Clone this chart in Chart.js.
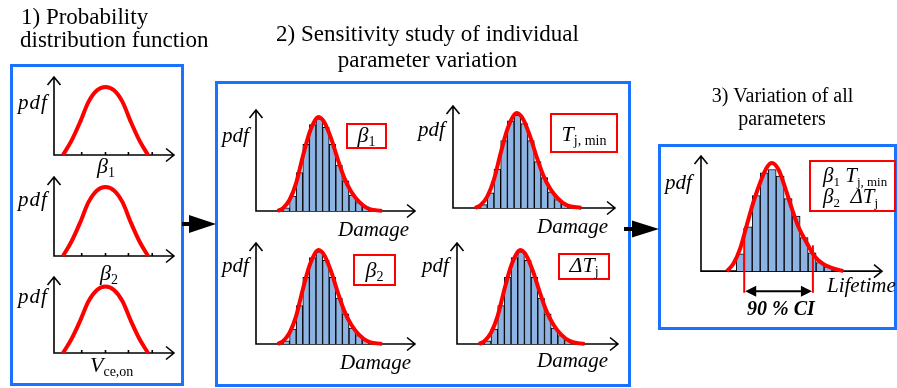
<!DOCTYPE html>
<html>
<head>
<meta charset="utf-8">
<script src="https://cdn.jsdelivr.net/npm/chart.js@4.4.1/dist/chart.umd.min.js"></script>
<style>
  html, body { margin: 0; padding: 0; background: #fff; }
  #page { position: relative; width: 897px; height: 388px; overflow: hidden; }
  .box { position: absolute; border: 3.5px solid #1a73ff; box-sizing: border-box; }
  .tag { position: absolute; border: 2px solid #ff0000; box-sizing: border-box; background: #fff; }
  canvas { position: absolute; }
  svg { position: absolute; left: 0; top: 0; }
  #labels { left: 0; top: 0; }
</style>
</head>
<body>
<div id="page">
  <div class="box" style="left:10px;top:64px;width:174px;height:322px"></div>
  <div class="box" style="left:215px;top:81px;width:416px;height:306px"></div>
  <div class="box" style="left:658px;top:144px;width:239px;height:186px"></div>

  <canvas id="pdf1"></canvas>
  <canvas id="pdf2"></canvas>
  <canvas id="pdf3"></canvas>
  <canvas id="dmgB1"></canvas>
  <canvas id="dmgTmin"></canvas>
  <canvas id="dmgB2"></canvas>
  <canvas id="dmgDT"></canvas>
  <canvas id="life"></canvas>

  <div class="tag" style="left:346px;top:123px;width:41px;height:26px"></div>
  <div class="tag" style="left:550px;top:113px;width:68px;height:40px"></div>
  <div class="tag" style="left:353px;top:254px;width:43px;height:32px"></div>
  <div class="tag" style="left:558px;top:253px;width:52px;height:27px"></div>
  <div class="tag" style="left:809px;top:160px;width:87px;height:52px"></div>

  <svg width="897" height="388">
    <rect x="182" y="222" width="9" height="4" fill="#000"/>
    <polygon points="189,215 216,224 189,233" fill="#000"/>
    <rect x="624" y="227" width="9" height="4" fill="#000"/>
    <polygon points="632,220.5 659,229 632,237.5" fill="#000"/>
  </svg>

  <canvas id="labels" width="897" height="388"></canvas>
</div>

<script>
// 1) input parameter pdfs, normalised to peak
const pdfX = [0, 1, 2, 3, 4, 5, 6, 7, 8, 9, 10];
const pdfBeta1 = [0, 0.21, 0.48, 0.78, 0.95, 1, 0.95, 0.78, 0.48, 0.21, 0];
const pdfBeta2 = [0, 0.21, 0.48, 0.78, 0.95, 1, 0.95, 0.78, 0.48, 0.21, 0];
const pdfVce = [0, 0.21, 0.48, 0.78, 0.95, 1, 0.95, 0.78, 0.48, 0.21, 0];
const pdfTicks = [2.2, 5, 7.7, 10.5];

// 2) damage histogram (same shape for every parameter)
const damageBins = [0, 1, 2, 3, 4, 5, 6, 7, 8, 9, 10, 11, 12];
const damageCounts = [0.035, 0.16, 0.41, 0.71, 0.92, 0.98, 0.89, 0.71, 0.49, 0.32, 0.17, 0.09, 0.045];
const damageFitX = [-1.3, -0.5, 0.5, 1.5, 2.5, 3.5, 4.4, 4.9, 5.8, 6.8, 7.8, 8.8, 9.8, 11, 12.3, 14.5];
const damageFitY = [0, 0.03, 0.12, 0.3, 0.58, 0.83, 0.97, 1, 0.94, 0.77, 0.55, 0.35, 0.21, 0.1, 0.03, 0];

// 3) lifetime histogram with all parameters varied
const lifeBins = [0, 1, 2, 3, 4, 5, 6, 7, 8, 9, 10, 11];
const lifeCounts = [0.16, 0.41, 0.70, 0.91, 0.94, 0.88, 0.67, 0.51, 0.31, 0.17, 0.08, 0.04];
const lifeFitX = [-1.66, -0.84, 0, 0.84, 1.66, 2.5, 3.34, 3.96, 4.79, 5.63, 6.46, 7.29, 8.34, 9.38, 10.41, 11.46, 12.9];
const lifeFitY = [0, 0.07, 0.21, 0.43, 0.64, 0.82, 0.96, 1, 0.94, 0.77, 0.58, 0.41, 0.26, 0.13, 0.065, 0.03, 0];
const ciBounds = [0.5, 9.1];
const ciMarkTop = [0.4, 0.24];
const ciMarkBottom = -0.2;
const ciArrowLevel = -0.185;

const RED = '#ff0000';
const BAR = '#8db3e2';
const FACE = '"Liberation Serif", "Times New Roman", serif';

const axisArrows = {
  id: 'axisArrows',
  beforeDatasetsDraw(chart, args, opts) {
    const { ctx, chartArea: a, scales: { x, y } } = chart;
    const y0 = y.getPixelForValue(0);
    ctx.save();
    ctx.strokeStyle = '#000';
    ctx.lineWidth = 1.6;
    ctx.beginPath();
    ctx.moveTo(a.left, a.top);
    ctx.lineTo(a.left, y0);
    ctx.lineTo(a.right, y0);
    ctx.moveTo(a.left - 6.5, a.top + 8);
    ctx.lineTo(a.left, a.top);
    ctx.lineTo(a.left + 6.5, a.top + 8);
    ctx.moveTo(a.right - 8, y0 - 6.5);
    ctx.lineTo(a.right, y0);
    ctx.lineTo(a.right - 8, y0 + 6.5);
    (opts.ticks || []).forEach(v => {
      const px = x.getPixelForValue(v);
      ctx.moveTo(px, y0);
      ctx.lineTo(px, y0 - 3);
    });
    ctx.stroke();
    ctx.restore();
  }
};

const ciArrow = {
  id: 'ciArrow',
  afterDatasetsDraw(chart, args, opts) {
    if (!opts.bounds) return;
    const { ctx, scales: { x, y } } = chart;
    const l = x.getPixelForValue(opts.bounds[0]);
    const r = x.getPixelForValue(opts.bounds[1]);
    const py = y.getPixelForValue(opts.level);
    ctx.save();
    ctx.strokeStyle = '#000';
    ctx.fillStyle = '#000';
    ctx.lineWidth = 2;
    ctx.beginPath();
    ctx.moveTo(l + 8, py);
    ctx.lineTo(r - 8, py);
    ctx.stroke();
    ctx.beginPath();
    ctx.moveTo(l + 1, py);
    ctx.lineTo(l + 12, py - 5.5);
    ctx.lineTo(l + 12, py + 5.5);
    ctx.closePath();
    ctx.moveTo(r - 1, py);
    ctx.lineTo(r - 12, py - 5.5);
    ctx.lineTo(r - 12, py + 5.5);
    ctx.closePath();
    ctx.fill();
    ctx.restore();
  }
};

function points(xs, ys) {
  return xs.map((x, i) => ({ x: x, y: ys[i] }));
}

function curve(xs, ys) {
  return {
    type: 'line',
    data: points(xs, ys),
    borderColor: RED,
    borderWidth: 4,
    pointRadius: 0,
    cubicInterpolationMode: 'monotone',
    fill: false,
    clip: false,
    order: 0
  };
}

function histogram(xs, ys) {
  return {
    type: 'bar',
    data: points(xs, ys),
    backgroundColor: BAR,
    borderColor: '#000',
    borderWidth: 1,
    barPercentage: 1,
    categoryPercentage: 1,
    order: 1
  };
}

function makeChart(id, frame, xr, yr, datasets, extra) {
  const pad = 12;
  const cv = document.getElementById(id);
  const w = frame.right - frame.left + 2 * pad;
  const h = frame.bottom - frame.top + 2 * pad;
  cv.width = w;
  cv.height = h;
  cv.style.width = w + 'px';
  cv.style.height = h + 'px';
  cv.style.left = (frame.left - pad) + 'px';
  cv.style.top = (frame.top - pad) + 'px';
  const noTicks = s => { s.ticks = []; };
  new Chart(cv, {
    type: 'bar',
    data: { datasets: datasets },
    options: {
      responsive: false,
      animation: false,
      events: [],
      layout: { padding: pad },
      plugins: {
        legend: { display: false },
        tooltip: { enabled: false },
        axisArrows: { ticks: (extra && extra.ticks) || [] },
        ciArrow: (extra && extra.ci) || {}
      },
      scales: {
        x: { type: 'linear', min: xr[0], max: xr[1], display: false, offset: false, afterBuildTicks: noTicks },
        y: { type: 'linear', min: yr[0], max: yr[1], display: false, afterBuildTicks: noTicks }
      }
    },
    plugins: [axisArrows, ciArrow]
  });
}

// box 1
const pdfRangeX = [-1.06, 13.06];
const pdfRangeY = [0, 1.145];
makeChart('pdf1', { left: 54, right: 174, top: 77, bottom: 155 }, pdfRangeX, pdfRangeY, [curve(pdfX, pdfBeta1)], { ticks: pdfTicks });
makeChart('pdf2', { left: 54, right: 174, top: 177, bottom: 256 }, pdfRangeX, pdfRangeY, [curve(pdfX, pdfBeta2)], { ticks: pdfTicks });
makeChart('pdf3', { left: 54, right: 174, top: 277, bottom: 353 }, pdfRangeX, pdfRangeY, [curve(pdfX, pdfVce)], { ticks: pdfTicks });

// box 2
const dmgRangeX = [-4.59, 19.5];
const dmgRangeY = [0, 1.075];
const dmgSets = () => [curve(damageFitX, damageFitY), histogram(damageBins, damageCounts)];
makeChart('dmgB1', { left: 256, right: 415, top: 110, bottom: 211 }, dmgRangeX, dmgRangeY, dmgSets());
makeChart('dmgTmin', { left: 453, right: 615, top: 106, bottom: 208 }, dmgRangeX, dmgRangeY, dmgSets());
makeChart('dmgB2', { left: 256, right: 415, top: 243, bottom: 344 }, dmgRangeX, dmgRangeY, dmgSets());
makeChart('dmgDT', { left: 457, right: 618, top: 243, bottom: 344 }, dmgRangeX, dmgRangeY, dmgSets());

// box 3
const ciLines = ciBounds.map((b, i) => ({
  type: 'line',
  data: [{ x: b, y: ciMarkTop[i] }, { x: b, y: ciMarkBottom }],
  borderColor: RED,
  borderWidth: 2,
  pointRadius: 0,
  clip: false,
  order: -1
}));
makeChart('life', { left: 701, right: 882, top: 156, bottom: 296 }, [-4.91, 17.75], [-0.23, 1.065],
  [curve(lifeFitX, lifeFitY), histogram(lifeBins, lifeCounts)].concat(ciLines),
  { ci: { bounds: ciBounds, level: ciArrowLevel } });

// ---- text layer (html text came out in a fallback face, canvas text keeps the serif) ----
// a label is a list of runs: [text, size, style, baseline shift]
const R = (t, s) => [t, s, '', 0];
const I = (t, s) => [t, s, 'italic ', 0];
const SUB = (t, s) => [t, s, '', 4];

const labels = [
  { x: 21, y: 24, runs: [R('1) Probability', 23)] },
  { x: 20, y: 47, runs: [R('distribution function', 23)] },
  { x: 427.5, y: 41, align: 'center', runs: [R('2) Sensitivity study of individual', 23)] },
  { x: 427.5, y: 67, align: 'center', runs: [R('parameter variation', 23)] },
  { x: 782.5, y: 102, align: 'center', runs: [R('3) Variation of all', 20)] },
  { x: 782, y: 125, align: 'center', runs: [R('parameters', 20)] },

  { x: 18, y: 109, spacing: 1, runs: [I('pdf', 21)] },
  { x: 18, y: 206, spacing: 1, runs: [I('pdf', 21)] },
  { x: 18, y: 303, spacing: 1, runs: [I('pdf', 21)] },
  { x: 97, y: 173, runs: [I('β', 22), SUB('1', 14)] },
  { x: 100, y: 279.5, runs: [I('β', 22), SUB('2', 14)] },
  { x: 90, y: 372, runs: [I('V', 22), SUB('ce,on', 14)] },

  { x: 222, y: 142, runs: [I('pdf', 21)] },
  { x: 418, y: 135.5, runs: [I('pdf', 21)] },
  { x: 222, y: 271.5, runs: [I('pdf', 21)] },
  { x: 422, y: 272, runs: [I('pdf', 21)] },
  { x: 338, y: 236, runs: [I('Damage', 21)] },
  { x: 537, y: 233, runs: [I('Damage', 21)] },
  { x: 340, y: 369, runs: [I('Damage', 21)] },
  { x: 537, y: 367, runs: [I('Damage', 21)] },

  { x: 366.5, y: 141.5, align: 'center', runs: [I('β', 22), SUB('1', 14)] },
  { x: 584, y: 140.5, align: 'center', runs: [I('T', 22), SUB('j, min', 14)] },
  { x: 374.5, y: 276.5, align: 'center', runs: [I('β', 22), SUB('2', 14)] },
  { x: 584, y: 271.5, align: 'center', runs: [I('ΔT', 22), SUB('j', 14)] },

  { x: 665, y: 189, runs: [I('pdf', 21)] },
  { x: 827, y: 292, runs: [I('Lifetime', 21)] },
  { x: 747, y: 315, runs: [['90 % CI', 20, 'italic bold ', 0]] },
  { x: 823, y: 182, runs: [I('β', 21), SUB('1', 13), R(' ', 21), I('T', 21), SUB('j, min', 13)] },
  { x: 823, y: 203, runs: [I('β', 21), SUB('2', 13), R('  ', 21), I('ΔT', 21), SUB('j', 13)] }
];

function drawLabels() {
  const ctx = document.getElementById('labels').getContext('2d');
  ctx.clearRect(0, 0, 897, 388);
  ctx.fillStyle = '#000';
  ctx.textBaseline = 'alphabetic';
  ctx.textAlign = 'left';
  labels.forEach(lb => {
    ctx.letterSpacing = (lb.spacing || 0) + 'px';
    const widths = lb.runs.map(([t, s, st]) => {
      ctx.font = st + s + 'px ' + FACE;
      return ctx.measureText(t).width;
    });
    const total = widths.reduce((a, b) => a + b, 0);
    let x = lb.align === 'center' ? lb.x - total / 2 : lb.x;
    lb.runs.forEach(([t, s, st, dy], i) => {
      ctx.font = st + s + 'px ' + FACE;
      ctx.fillText(t, x, lb.y + dy);
      x += widths[i];
    });
  });
  ctx.letterSpacing = '0px';
}

drawLabels();
if (document.fonts && document.fonts.ready) document.fonts.ready.then(drawLabels);
</script>
</body>
</html>
